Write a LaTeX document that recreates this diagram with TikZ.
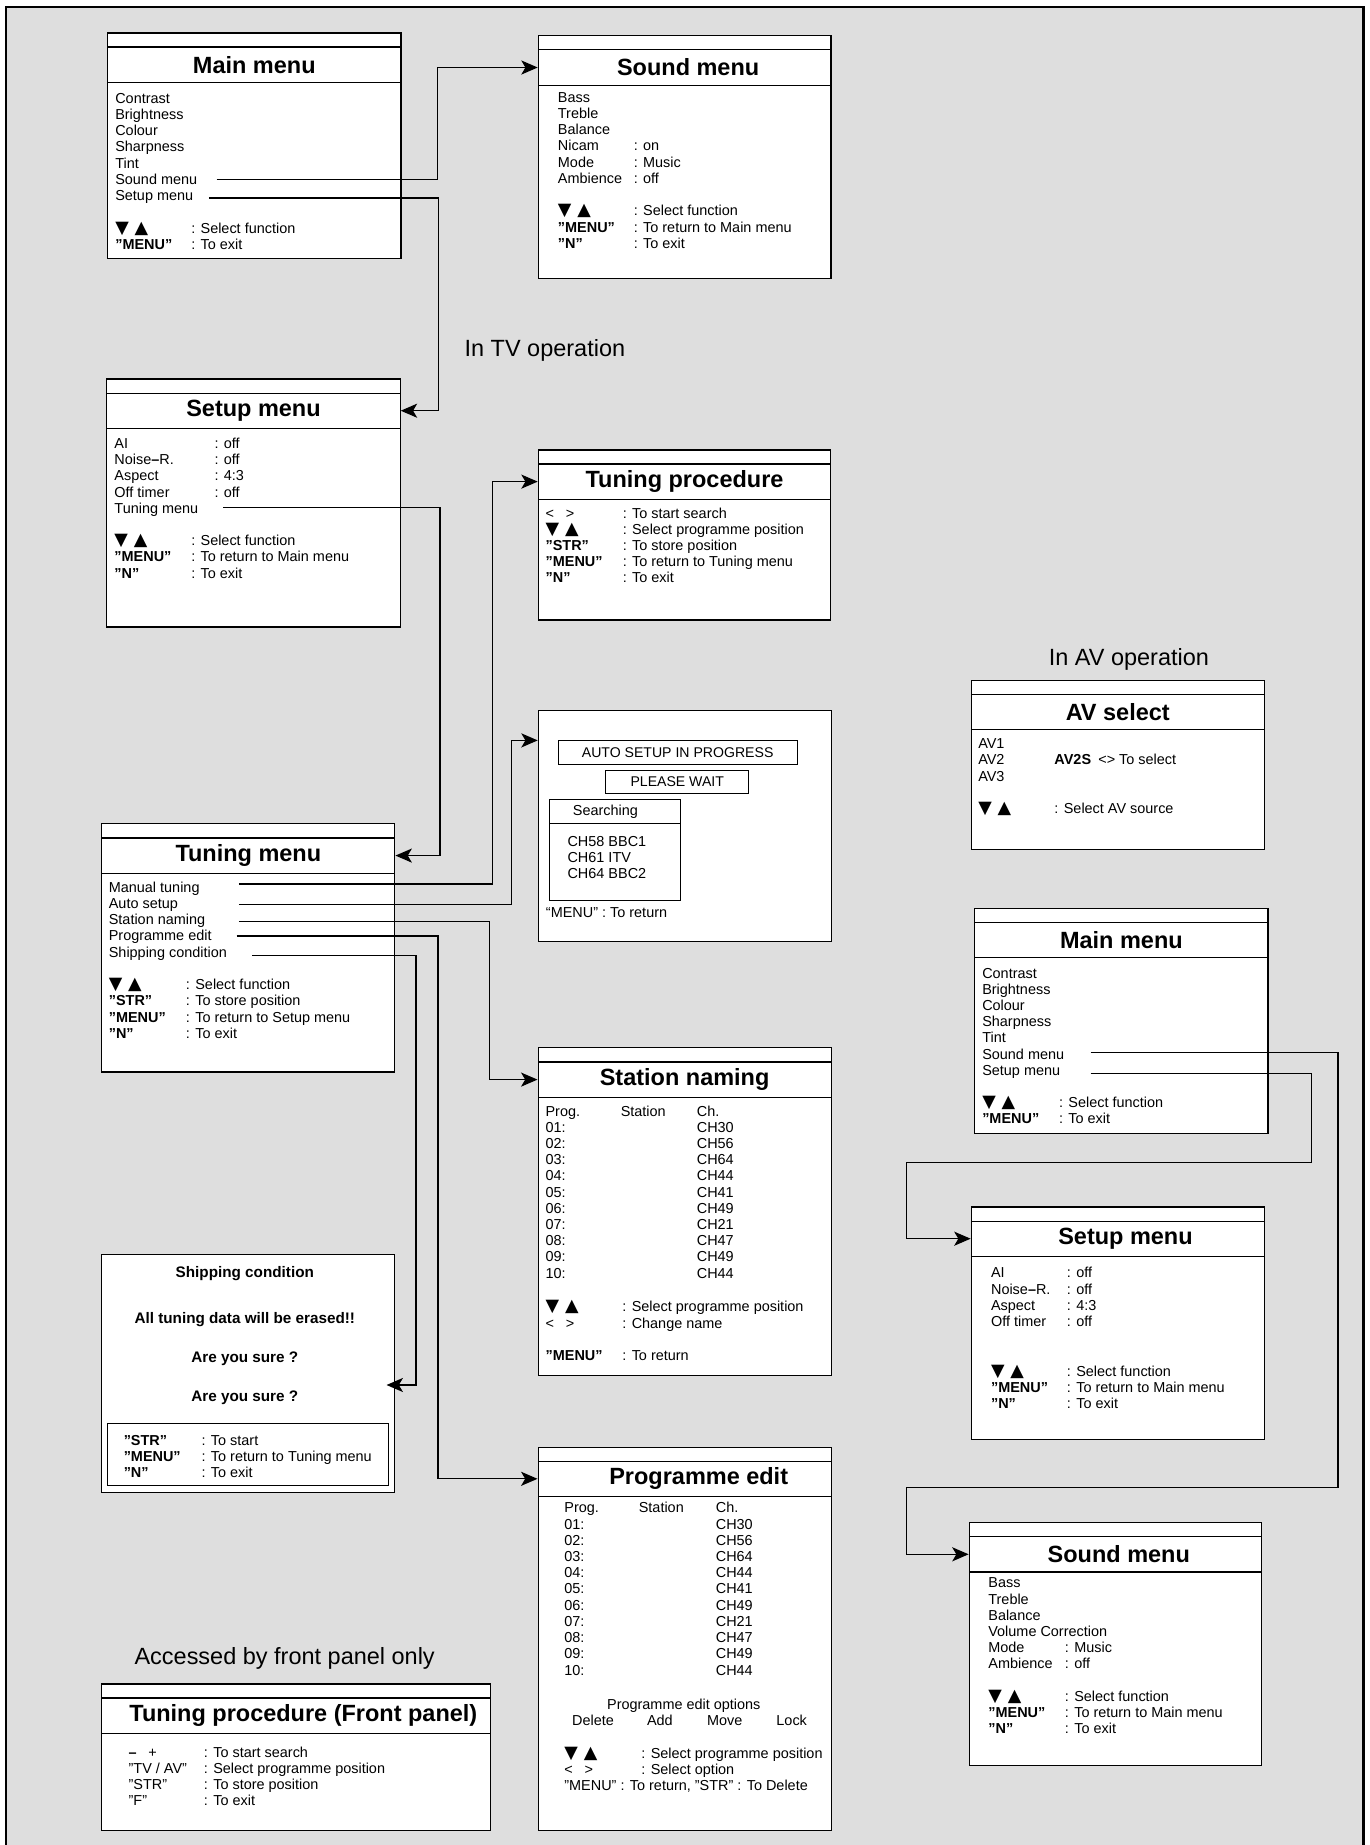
\documentclass[tikz,border=0pt]{standalone}
\usepackage{fontspec}
\setmainfont{Liberation Sans}
\newfontfamily\symfont{DejaVu Sans}
\usetikzlibrary{arrows.meta,positioning}
\definecolor{panelgray}{RGB}{222,222,222}
\newcommand{\dnup}{{\symfont\fontsize{15}{13.8}\selectfont ▼\hspace{5pt}▲}}
\begin{document}
\begin{tikzpicture}[x=1pt,y=-1pt,
    menubox/.style={draw, line width=1pt, fill=white, inner sep=0pt},
    innerbox/.style={draw, line width=0.9pt, inner sep=0pt, font=\fontsize{12.3}{13.8}\selectfont},
    menutitle/.style={draw, line width=1pt, inner sep=0pt, minimum height=30pt, font=\fontsize{20}{24}\selectfont\bfseries},
    menutext/.style={anchor=base west, inner sep=0pt, font=\fontsize{12.3}{13.8}\selectfont},
    shiptext/.style={anchor=base, inner sep=0pt, font=\fontsize{13}{15.6}\selectfont\bfseries},
    note/.style={anchor=base west, inner sep=0pt, font=\fontsize{20}{24}\selectfont},
    arr/.style={line width=1.1pt, -{Stealth[length=14pt,width=12pt,inset=3.5pt]}}]

    % background and frame
    \useasboundingbox (0,0) rectangle (1166,1571.4);
    \fill[panelgray] (5,6) rectangle (1161.5,1590);
    \draw[line width=2.2pt] (5,1590) -- (5,6) -- (1161.5,6) -- (1161.5,1590);

    % Main menu (TV)
    \node[menubox, minimum width=249.8pt, minimum height=192.2pt, anchor=north west] (mainTV) at (91.2,27.6) {};
    \node[menutitle, minimum width=249.8pt, below=12pt of mainTV.north] (mainTVt) {Main menu};
    \node[menutext] (mainTVi) at (98,87.9) {\begin{tabular}[t]{@{}l@{}}
        Contrast\\ Brightness\\ Colour\\ Sharpness\\ Tint\\ Sound menu\\ Setup menu
    \end{tabular}};
    \node[menutext] (mainTVk) at (98,198.6) {\begin{tabular}[t]{@{}p{64.7pt}@{}l@{}}
        \dnup & : Select function\\
        \textbf{"MENU”} & : To exit
    \end{tabular}};
    \coordinate (mtvSound) at (184.4,152.7);
    \coordinate (mtvSetup) at (178,168.6);

    % Sound menu (TV)
    \node[menubox, minimum width=249.2pt, minimum height=207pt, anchor=north west] (soundTV) at (458,30) {};
    \node[menutitle, minimum width=249.2pt, below=12pt of soundTV.north] (soundTVt) {\hspace*{6pt}Sound menu};
    \node[menutext] (soundTVi) at (475,87.2) {\begin{tabular}[t]{@{}p{64.6pt}@{}l@{}}
        Bass & \\ Treble & \\ Balance & \\
        Nicam & : on\\ Mode & : Music\\ Ambience & : off\\ & \\
        \dnup & : Select function\\
        \textbf{"MENU”} & : To return to Main menu\\
        \textbf{"N”} & : To exit
    \end{tabular}};

    \node[note] (tvNote) at (395.5,303.3) {In TV operation};

    % Setup menu (TV)
    \node[menubox, minimum width=249.8pt, minimum height=211.2pt, anchor=north west] (setupTV) at (90.5,322.3) {};
    \node[menutitle, minimum width=249.8pt, below=12pt of setupTV.north] (setupTVt) {Setup menu};
    \node[menutext] (setupTVi) at (97.3,381.9) {\begin{tabular}[t]{@{}p{85.2pt}@{}l@{}}
        AI & : off\\ Noise\textbf{–}R. & : off\\ Aspect & : 4:3\\ Off timer & : off\\ Tuning menu &
    \end{tabular}};
    \node[menutext] (setupTVk) at (97.3,464.7) {\begin{tabular}[t]{@{}p{65.4pt}@{}l@{}}
        \dnup & : Select function\\
        \textbf{"MENU”} & : To return to Main menu\\
        \textbf{"N”} & : To exit
    \end{tabular}};
    \coordinate (stvTuning) at (190,432.5);

    % Tuning procedure
    \node[menubox, minimum width=249pt, minimum height=144.9pt, anchor=north west] (tprocTV) at (458,382.7) {};
    \node[menutitle, minimum width=249pt, below=12pt of tprocTV.north] (tprocTVt) {Tuning procedure};
    \node[menutext] (tprocTVk) at (464.5,441.3) {\begin{tabular}[t]{@{}p{65.7pt}@{}l@{}}
        <\hspace{10pt}> & : To start search\\
        \dnup & : Select programme position\\
        \textbf{"STR”} & : To store position\\
        \textbf{"MENU”} & : To return to Tuning menu\\
        \textbf{"N”} & : To exit
    \end{tabular}};

    % Auto setup
    \node[menubox, minimum width=249.4pt, minimum height=197.1pt, anchor=north west] (autoTV) at (458,604.5) {};
    \node[innerbox, minimum width=203.6pt, minimum height=20.2pt, anchor=north west, font=\fontsize{12}{14}\selectfont] (progBox) at (474.9,630.6) {AUTO SETUP IN PROGRESS};
    \node[innerbox, minimum width=121.7pt, minimum height=19.4pt, anchor=north west, font=\fontsize{12}{14}\selectfont] (waitBox) at (515.5,656) {PLEASE WAIT};
    \node[innerbox, minimum width=112pt, minimum height=85.5pt, anchor=north west] (searchBox) at (467.2,680.7) {};
    \node[innerbox, minimum width=112pt, minimum height=20.5pt, anchor=north west] (searchHead) at (467.2,680.7) {Searching\hspace*{16pt}};
    \node[menutext] (chanList) at (483.2,720.6) {\begin{tabular}[t]{@{}l@{}}
        CH58 BBC1\\ CH61 ITV\\ CH64 BBC2
    \end{tabular}};
    \node[menutext] (autoBack) at (464.8,781.1) {“MENU” : To return};
    \coordinate (autoIn) at (autoTV.west |- progBox.north);

    % Tuning menu
    \node[menubox, minimum width=249.6pt, minimum height=211.3pt, anchor=north west] (tuneTV) at (86.2,701.2) {};
    \node[menutitle, minimum width=249.6pt, below=12pt of tuneTV.north] (tuneTVt) {Tuning menu};
    \node[menutext] (tuneTVi) at (92.5,759.9) {\begin{tabular}[t]{@{}l@{}}
        Manual tuning\\ Auto setup\\ Station naming\\ Programme edit\\ Shipping condition
    \end{tabular}};
    \node[menutext] (tuneTVk) at (92.5,842.9) {\begin{tabular}[t]{@{}p{65.7pt}@{}l@{}}
        \dnup & : Select function\\
        \textbf{"STR”} & : To store position\\
        \textbf{"MENU”} & : To return to Setup menu\\
        \textbf{"N”} & : To exit
    \end{tabular}};
    \coordinate (tunManual) at (203.4,753);
    \coordinate (tunAuto) at (203.4,770.4);
    \coordinate (tunStation) at (203.4,784.6);
    \coordinate (tunProg) at (201.6,797.1);
    \coordinate (tunShip) at (214.8,813.5);

    % Station naming
    \node[menubox, minimum width=249.6pt, minimum height=278.8pt, anchor=north west] (stationTV) at (457.8,892) {};
    \node[menutitle, minimum width=249.6pt, below=12pt of stationTV.north] (stationTVt) {Station naming};
    \node[menutext] (stationTVi) at (464.5,950.6) {\begin{tabular}[t]{@{}p{64pt}@{}p{64.8pt}@{}l@{}}
        Prog. & Station & Ch.\\
        01: & & CH30\\ 02: & & CH56\\ 03: & & CH64\\ 04: & & CH44\\ 05: & & CH41\\
        06: & & CH49\\ 07: & & CH21\\ 08: & & CH47\\ 09: & & CH49\\ 10: & & CH44
    \end{tabular}};
    \node[menutext] (stationTVk) at (464.5,1117.3) {\begin{tabular}[t]{@{}p{65.4pt}@{}l@{}}
        \dnup & : Select programme position\\
        <\hspace{10pt}> & : Change name\\ & \\
        \textbf{"MENU”} & : To return
    \end{tabular}};

    % Shipping condition
    \node[menubox, minimum width=249.7pt, minimum height=202.4pt, anchor=north west] (shipTV) at (86.1,1068.3) {};
    \node[shiptext] (shipHead) at (208.5,1088.4) {Shipping condition};
    \node[shiptext] (shipWarn) at (208.5,1126.8) {All tuning data will be erased!!};
    \node[shiptext] (shipSureA) at (208.5,1160.3) {Are you sure ?};
    \node[shiptext] (shipSureB) at (208.5,1193.9) {Are you sure ?};
    \node[innerbox, minimum width=238.8pt, minimum height=52.9pt, anchor=north west] (shipKeys) at (91.4,1212.2) {};
    \node[menutext] (shipKeysT) at (105.2,1230.8) {\begin{tabular}[t]{@{}p{66.3pt}@{}l@{}}
        \textbf{"STR”} & : To start\\
        \textbf{"MENU”} & : To return to Tuning menu\\
        \textbf{"N”} & : To exit
    \end{tabular}};
    \coordinate (shipIn) at (329.2,1179.6);

    % Programme edit
    \node[menubox, minimum width=249.6pt, minimum height=326.2pt, anchor=north west] (progTV) at (457.8,1232) {};
    \node[menutitle, minimum width=249.6pt, below=12pt of progTV.north] (progTVt) {\hspace*{24pt}Programme edit};
    \node[menutext] (progTVi) at (480.5,1288.6) {\begin{tabular}[t]{@{}p{63.4pt}@{}p{65.6pt}@{}l@{}}
        Prog. & Station & Ch.\\
        01: & & CH30\\ 02: & & CH56\\ 03: & & CH64\\ 04: & & CH44\\ 05: & & CH41\\
        06: & & CH49\\ 07: & & CH21\\ 08: & & CH47\\ 09: & & CH49\\ 10: & & CH44
    \end{tabular}};
    \node[menutext, anchor=base] (progOpt) at (582.4,1455.6) {Programme edit options};
    \node[menutext] (optDelete) at (487.1,1469.6) {Delete};
    \node[menutext] (optAdd) at (550.9,1469.6) {Add};
    \node[menutext] (optMove) at (602.1,1469.6) {Move};
    \node[menutext] (optLock) at (661.1,1469.6) {Lock};
    \node[menutext] (progTVk) at (480.5,1497.3) {\begin{tabular}[t]{@{}p{65.6pt}@{}l@{}}
        \dnup & : Select programme position\\
        <\hspace{10pt}> & : Select option\\
        \multicolumn{2}{@{}l@{}}{"MENU" : To return, "STR" : To Delete}
    \end{tabular}};

    % Tuning procedure (front panel)
    \node[note] (panelNote) at (114.4,1418) {Accessed by front panel only};
    \node[menubox, minimum width=331.5pt, minimum height=124.8pt, anchor=north west] (panelTV) at (86.1,1433.7) {};
    \node[menutitle, minimum width=331.5pt, below=12pt of panelTV.north] (panelTVt) {\hspace*{12pt}Tuning procedure (Front panel)};
    \node[menutext] (panelTVk) at (109.4,1496.7) {\begin{tabular}[t]{@{}p{64.1pt}@{}l@{}}
        \textbf{–}\hspace{10pt}+ & : To start search\\
        "TV / AV" & : Select programme position\\
        "STR" & : To store position\\
        "F" & : To exit
    \end{tabular}};

    % AV select
    \node[note] (avNote) at (893.1,566.6) {In AV operation};
    \node[menubox, minimum width=249.6pt, minimum height=144.3pt, anchor=north west] (avSel) at (826.7,578.8) {};
    \node[menutitle, minimum width=249.6pt, below=12pt of avSel.north] (avSelt) {AV select};
    \node[menutext] (avSeli) at (833,637.6) {\begin{tabular}[t]{@{}p{64.9pt}@{}l@{}}
        AV1 & \\
        AV2 & \textbf{AV2S}\enspace<> To select\\
        AV3 & \\ & \\
        \dnup & : Select AV source
    \end{tabular}};

    % Main menu (AV)
    \node[menubox, minimum width=249.6pt, minimum height=191.6pt, anchor=north west] (mainAV) at (829.8,773.2) {};
    \node[menutitle, minimum width=249.6pt, below=12pt of mainAV.north] (mainAVt) {Main menu};
    \node[menutext] (mainAVi) at (836.4,833) {\begin{tabular}[t]{@{}l@{}}
        Contrast\\ Brightness\\ Colour\\ Sharpness\\ Tint\\ Sound menu\\ Setup menu
    \end{tabular}};
    \node[menutext] (mainAVk) at (836.4,943.2) {\begin{tabular}[t]{@{}p{65.4pt}@{}l@{}}
        \dnup & : Select function\\
        \textbf{"MENU”} & : To exit
    \end{tabular}};
    \coordinate (mavSound) at (928.9,896.6);
    \coordinate (mavSetup) at (928.9,914.3);
    \coordinate (mavSoundTurn) at (1139.6,1266.6);
    \coordinate (mavSetupTurn) at (1117.3,989.8);

    % Setup menu (AV)
    \node[menubox, minimum width=249.8pt, minimum height=198pt, anchor=north west] (setupAV) at (826.7,1027.5) {};
    \node[menutitle, minimum width=249.8pt, below=12pt of setupAV.north] (setupAVt) {\hspace*{13pt}Setup menu};
    \node[menutext] (setupAVi) at (843.9,1088.3) {\begin{tabular}[t]{@{}p{64.6pt}@{}l@{}}
        AI & : off\\ Noise\textbf{–}R. & : off\\ Aspect & : 4:3\\ Off timer & : off
    \end{tabular}};
    \node[menutext] (setupAVk) at (843.9,1172) {\begin{tabular}[t]{@{}p{64.6pt}@{}l@{}}
        \dnup & : Select function\\
        \textbf{"MENU”} & : To return to Main menu\\
        \textbf{"N”} & : To exit
    \end{tabular}};

    % Sound menu (AV)
    \node[menubox, minimum width=248.8pt, minimum height=206.8pt, anchor=north west] (soundAV) at (825,1296.3) {};
    \node[menutitle, minimum width=248.8pt, below=12pt of soundAV.north] (soundAVt) {\hspace*{6pt}Sound menu};
    \node[menutext] (soundAVi) at (841.6,1352.4) {\begin{tabular}[t]{@{}p{65.2pt}@{}l@{}}
        Bass & \\ Treble & \\ Balance & \\
        \multicolumn{2}{@{}l@{}}{Volume Correction}\\
        Mode & : Music\\ Ambience & : off\\ & \\
        \dnup & : Select function\\
        \textbf{"MENU”} & : To return to Main menu\\
        \textbf{"N”} & : To exit
    \end{tabular}};

    % connectors in TV operation
    \draw[arr] (mtvSound) -| ([xshift=-85.4pt]soundTVt.west) -- (soundTVt.west);
    \draw[arr] (mtvSetup) -| ([xshift=32.3pt]setupTVt.east) -- (setupTVt.east);
    \draw[arr] (stvTuning) -| ([xshift=38pt]tuneTVt.east) -- (tuneTVt.east);
    \draw[arr] (tunManual) -| ([xshift=-38.8pt]tprocTVt.west) -- (tprocTVt.west);
    \draw[arr] (tunAuto) -| ([xshift=-22.4pt]autoIn) -- (autoIn);
    \draw[arr] (tunStation) -| ([xshift=-41pt]stationTVt.west) -- (stationTVt.west);
    \draw[arr] (tunProg) -| ([xshift=-84.8pt]progTVt.west) -- (progTVt.west);
    \draw[arr] (tunShip) -| ([xshift=25pt]shipIn) -- (shipIn);

    % connectors in AV operation
    \draw[arr] (mavSound) -| (mavSoundTurn) -| ([xshift=-52.8pt]soundAVt.west) -- (soundAVt.west);
    \draw[arr] (mavSetup) -| (mavSetupTurn) -| ([xshift=-54.5pt]setupAVt.west) -- (setupAVt.west);
\end{tikzpicture}
\end{document}
